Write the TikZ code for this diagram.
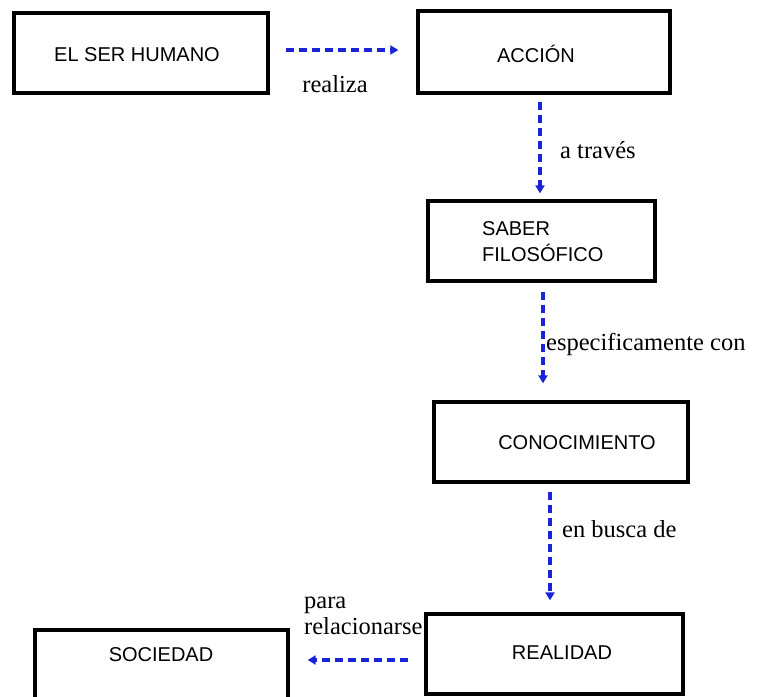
\documentclass[tikz,border=0pt]{standalone}
\usepackage{fontspec}
\setmainfont{Liberation Serif}
\newfontfamily\boxfont{Liberation Sans}
\usetikzlibrary{arrows.meta}
\definecolor{arrowblue}{RGB}{25,35,215}
\tikzset{
  box/.style={draw=black, line width=3.3pt, rectangle, inner sep=0pt},
  boxtext/.style={font=\boxfont\fontsize{20}{26}\selectfont, inner sep=0pt, align=left},
  lbl/.style={font=\fontsize{24.5}{26}\selectfont, inner sep=0pt, align=left},
  conn/.style={draw=arrowblue, line width=3.2pt, dash pattern=on 8pt off 5pt,
    -{Triangle[length=8pt,width=9pt]}}
}
\begin{document}
\begin{tikzpicture}[x=1pt,y=-1pt]
\useasboundingbox (0,0) rectangle (765,696);
% boxes
\node[box, minimum width=254pt, minimum height=80pt] (hum) at (141,53) {};
\node[box, minimum width=252pt, minimum height=82pt] (acc) at (544,52) {};
\node[box, minimum width=227pt, minimum height=80pt] (sab) at (541.5,241) {};
\node[box, minimum width=254pt, minimum height=80pt] (con) at (561,442) {};
\node[box, minimum width=257pt, minimum height=80pt] (rea) at (554.5,654) {};
\node[box, minimum width=253pt, minimum height=80pt] (soc) at (161.5,670) {};
% box texts
\node[boxtext] (humt) at (137,55) {EL SER HUMANO};
\node[boxtext] (acct) at (536,54) {ACCIÓN};
\node[boxtext, anchor=west] (sabt) at (482,241.5) {SABER\\FILOSÓFICO};
\node[boxtext] (cont) at (577,443) {CONOCIMIENTO};
\node[boxtext] (reat) at (562,653) {REALIDAD};
\node[boxtext] (soct) at (161,655) {SOCIEDAD};
% connectors
\draw[conn, shorten <=16pt, shorten >=18pt] ([yshift=3pt]hum.east) -- ([yshift=2pt]acc.west);
\draw[conn, shorten <=7pt, shorten >=6pt] ([xshift=-4pt]acc.south) -- ([xshift=-1.5pt]sab.north);
\draw[conn, shorten <=9pt, shorten >=17pt] ([xshift=1.5pt]sab.south) -- ([xshift=-18pt]con.north);
\draw[conn, shorten <=8pt, shorten >=12pt] ([xshift=-11pt]con.south) -- ([xshift=-4.5pt]rea.north);
\draw[conn, shorten <=16pt, shorten >=18pt] ([yshift=-6pt]rea.west) -- ([yshift=10pt]soc.east);
% labels
\node[lbl] (l1) at (335,84) {realiza};
\node[lbl, anchor=west] (l2) at (560,150) {a través};
\node[lbl, anchor=west] (l3) at (546,344) {especificamente con};
\node[lbl, anchor=west] (l4) at (562,529) {en busca de};
\node[lbl, anchor=west] (l5) at (304,616) {para\\relacionarse};
\end{tikzpicture}
\end{document}
